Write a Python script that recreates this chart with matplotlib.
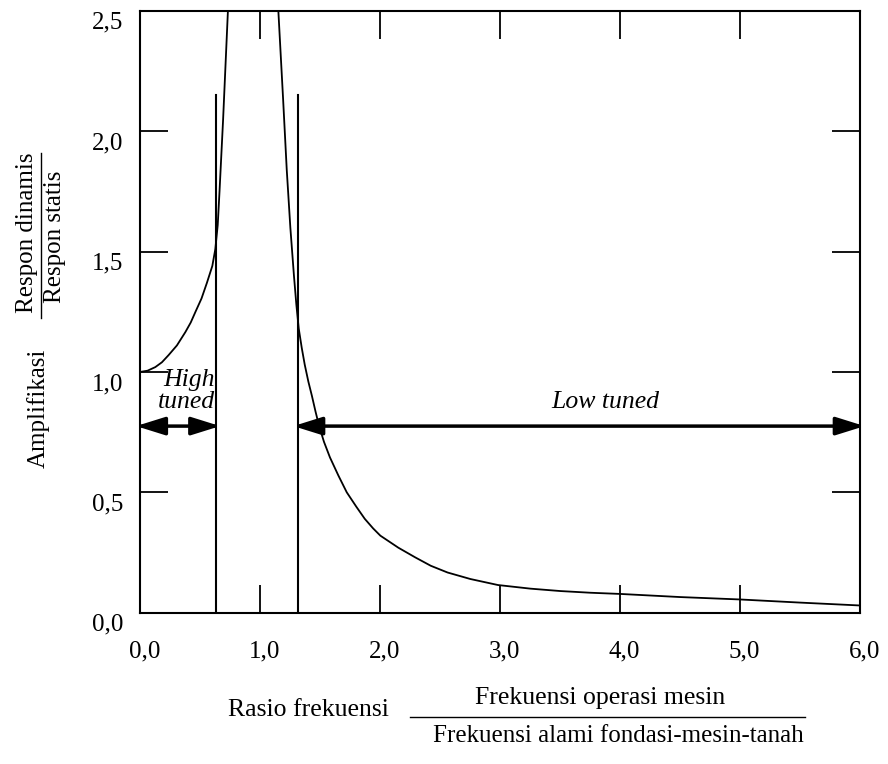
import matplotlib
matplotlib.use('Agg')
import matplotlib.pyplot as plt
from matplotlib.transforms import ScaledTranslation
from matplotlib.lines import Line2D

plt.rcParams['font.family'] = ['Liberation Serif', 'DejaVu Serif']

# titik kurva (rasio frekuensi, amplifikasi)
r_high = [0.0, 0.06, 0.125, 0.18, 0.236, 0.305, 0.375, 0.42, 0.46, 0.51,
          0.555, 0.60, 0.625, 0.645, 0.66, 0.69, 0.73]
a_high = [1.00, 1.005, 1.02, 1.04, 1.07, 1.11, 1.165, 1.205, 1.25, 1.305,
          1.37, 1.44, 1.51, 1.61, 1.75, 2.05, 2.50]

r_low = [1.15, 1.19, 1.22, 1.25, 1.28, 1.30, 1.32, 1.345, 1.37, 1.40, 1.43,
         1.46, 1.49, 1.53, 1.58, 1.65, 1.72, 1.80, 1.87, 1.94, 2.0, 2.15,
         2.29, 2.42, 2.56, 2.75, 2.98, 3.25, 3.5, 3.75, 4.0, 4.5, 5.0, 5.5, 6.0]
a_low = [2.50, 2.13, 1.84, 1.60, 1.40, 1.28, 1.18, 1.10, 1.03, 0.96, 0.90,
         0.835, 0.775, 0.71, 0.645, 0.57, 0.50, 0.44, 0.39, 0.35, 0.32, 0.27,
         0.23, 0.195, 0.167, 0.14, 0.115, 0.10, 0.09, 0.083, 0.078, 0.065,
         0.055, 0.042, 0.03]

# batas daerah high tuned / low tuned
batas = [0.63, 1.31]
tinggi_batas = 2.15
y_panah = 0.775

x_ticks = [0, 1, 2, 3, 4, 5, 6]
x_labels = ['0,0', '1,0', '2,0', '3,0', '4,0', '5,0', '6,0']
y_ticks = [0, 0.5, 1.0, 1.5, 2.0, 2.5]
y_labels = ['0,0', '0,5', '1,0', '1,5', '2,0', '2,5']

fig = plt.figure(figsize=(8.88, 7.64), dpi=100)
ax = fig.add_axes([0.158, 0.198, 0.811, 0.788])

ax.plot(r_high, a_high, color='black', lw=1.3)
ax.plot(r_low, a_low, color='black', lw=1.3)

for xb in batas:
    ax.plot([xb, xb], [0, tinggi_batas], color='black', lw=1.5)

# panah (ujung sedikit digeser supaya menyentuh garis)
gaya = '<|-|>,head_length=0.8,head_width=0.25'
geser = 0.035
ax.annotate('', xy=(0 - geser, y_panah), xytext=(batas[0] + geser, y_panah),
            annotation_clip=False,
            arrowprops=dict(arrowstyle=gaya, color='black', lw=2.5,
                            mutation_scale=22, shrinkA=0, shrinkB=0))
ax.annotate('', xy=(batas[1] - geser, y_panah), xytext=(6.0 + geser, y_panah),
            annotation_clip=False,
            arrowprops=dict(arrowstyle=gaya, color='black', lw=2.5,
                            mutation_scale=22, shrinkA=0, shrinkB=0))

ax.text(0.62, 0.965, 'High', style='italic', fontsize=18.5, ha='right', va='center')
ax.text(0.62, 0.875, 'tuned', style='italic', fontsize=18.5, ha='right', va='center')
ax.text(3.87, 0.875, 'Low tuned', style='italic', fontsize=18.5, ha='center', va='center')

ax.set_xlim(0, 6)
ax.set_ylim(0, 2.5)
ax.set_xticks(x_ticks)
ax.set_xticklabels(x_labels)
ax.set_yticks(y_ticks)
ax.set_yticklabels(y_labels)
ax.tick_params(direction='in', length=20, width=1.3, top=True, right=True,
               labelsize=18)
ax.tick_params(axis='x', pad=20)
ax.tick_params(axis='y', pad=12)
for sp in ax.spines.values():
    sp.set_linewidth(1.5)

off_y = ScaledTranslation(0, -7 / 72, fig.dpi_scale_trans)
for lbl in ax.get_yticklabels():
    lbl.set_transform(lbl.get_transform() + off_y)
off_x = ScaledTranslation(4 / 100, 0, fig.dpi_scale_trans)
for lbl in ax.get_xticklabels():
    lbl.set_transform(lbl.get_transform() + off_x)

# label sumbu y
W, H = 888, 764
fig.text(38 / W, 1 - 408 / H, 'Amplifikasi', rotation=90, fontsize=18,
         ha='center', va='center')
fig.text(27 / W, 1 - 233 / H, 'Respon dinamis', rotation=90, fontsize=18,
         ha='center', va='center')
fig.text(55 / W, 1 - 237 / H, 'Respon statis', rotation=90, fontsize=18,
         ha='center', va='center')
fig.add_artist(Line2D([41 / W, 41 / W], [1 - 153 / H, 1 - 318 / H],
                      color='black', lw=1.0))

# label sumbu x
fig.text(308 / W, 1 - 710 / H, 'Rasio frekuensi', fontsize=18.5,
         ha='center', va='center')
fig.text(600 / W, 1 - 698 / H, 'Frekuensi operasi mesin', fontsize=18.5,
         ha='center', va='center')
fig.text(618 / W, 1 - 736 / H, 'Frekuensi alami fondasi-mesin-tanah',
         fontsize=18, ha='center', va='center')
fig.add_artist(Line2D([410 / W, 805 / W], [1 - 717 / H, 1 - 717 / H],
                      color='black', lw=1.0))

fig.savefig('out.png', dpi=100)
